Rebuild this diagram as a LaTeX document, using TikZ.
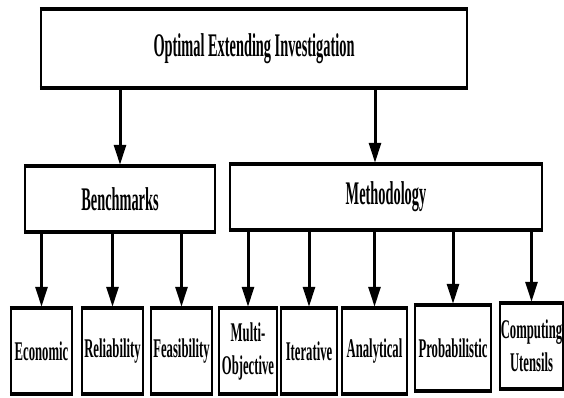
\documentclass[tikz,border=0pt]{standalone}
\usepackage{fontspec}
\newfontfamily\lblbig[FakeStretch=0.435]{Liberation Serif}
\newfontfamily\lblsmall[FakeStretch=0.47]{Liberation Serif}
\usetikzlibrary{arrows.meta}
\tikzset{
  bx/.style={draw=black, fill=white, line width=2.5pt, inner sep=0pt, align=center},
  big/.style={bx, font=\lblbig\bfseries\fontsize{33}{38}\selectfont},
  small/.style={bx, font=\lblsmall\bfseries\fontsize{27}{33}\selectfont},
  hedge/.style={line width=4.5pt},
  arr/.style={line width=3pt, -{Triangle[length=20pt,width=12pt]}}
}
\begin{document}
\begin{tikzpicture}[x=1pt,y=-1pt]
\useasboundingbox (0,0) rectangle (564,397);
\node[big, minimum width=426pt, minimum height=79pt] (top) at (254,48.5) {Optimal Extending Investigation};
\node[big, minimum width=190pt, minimum height=66pt] (bench) at (120,199) {Benchmarks};
\node[big, minimum width=312pt, minimum height=66pt] (meth) at (386,197) {Methodology};
\node[small, minimum width=61pt, minimum height=86pt] (eco) at (41.5,351) {Economic};
\node[small, minimum width=61pt, minimum height=86pt] (rel) at (112.5,351) {Reliability};
\node[small, minimum width=61pt, minimum height=86pt] (fea) at (181.5,351) {Feasibility};
\node[small, minimum width=58pt, minimum height=86pt] (mul) at (248,351) {Multi-\\Objective};
\node[small, minimum width=56pt, minimum height=86pt] (ite) at (309,351) {Iterative};
\node[small, minimum width=65pt, minimum height=86pt] (ana) at (374.5,351) {Analytical};
\node[small, minimum width=76pt, minimum height=86pt] (pro) at (453,348) {Probabilistic};
\node[small, minimum width=63pt, minimum height=86pt] (com) at (531.5,346) {Computing\\Utensils};
\foreach \n in {top,bench,meth,eco,rel,fea,mul,ite,ana,pro,com}{
  \draw[hedge] ([yshift=-1.25pt]\n.north west) -- ([yshift=-1.25pt]\n.north east);
  \draw[hedge] ([yshift=1.25pt]\n.south west) -- ([yshift=1.25pt]\n.south east);
}
\coordinate (mx) at (375,0);
\draw[arr] (top.south -| bench.north) -- (bench.north);
\draw[arr] (top.south -| mx) -- (meth.north -| mx);
\draw[arr] (bench.south -| eco.north) -- (eco.north);
\draw[arr] (bench.south -| rel.north) -- (rel.north);
\draw[arr] (bench.south -| fea.north) -- (fea.north);
\draw[arr] (meth.south -| mul.north) -- (mul.north);
\draw[arr] (meth.south -| ite.north) -- (ite.north);
\draw[arr] (meth.south -| ana.north) -- (ana.north);
\draw[arr] (meth.south -| pro.north) -- (pro.north);
\draw[arr] (meth.south -| com.north) -- (com.north);
\end{tikzpicture}
\end{document}
